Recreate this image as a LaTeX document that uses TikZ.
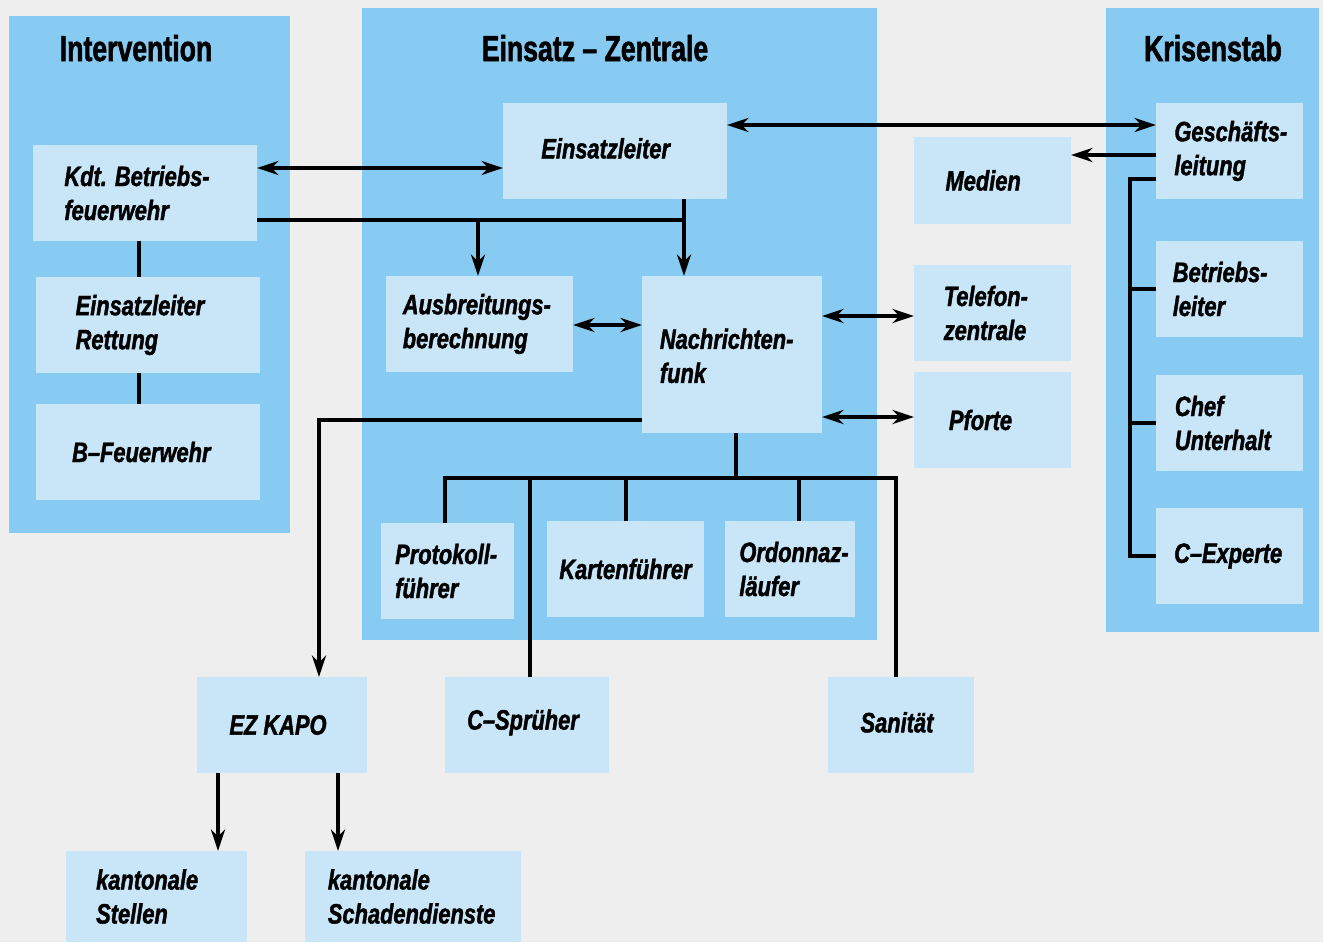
\documentclass[tikz,border=0pt]{standalone}
\usepackage{fontspec}
\usetikzlibrary{arrows.meta,fit}
\newfontfamily\labfont{Liberation Sans}[FakeStretch=0.78,FakeBold=1.5]
\newfontfamily\titfont{Liberation Sans}[FakeStretch=0.74,FakeBold=1.5]
\definecolor{bgc}{RGB}{238,238,238}
\definecolor{panelc}{RGB}{135,203,242}
\definecolor{boxc}{RGB}{201,230,248}
\tikzset{
  panel/.style={fill=panelc},
  box/.style={rectangle, fill=boxc, inner sep=0pt, outer sep=0pt},
  lab/.style={inner sep=0pt, align=left, yshift=0pt,
    font=\labfont\bfseries\itshape\fontsize{21}{25.5}\selectfont},
  title/.style={anchor=base, inner sep=0pt, font=\titfont\bfseries\fontsize{27}{30}\selectfont},
  conn/.style={line width=3pt},
  tip/.tip={Stealth[length=16pt,width=10.5pt,inset=5pt]},
  arr/.style={conn, -tip},
  darr/.style={conn, tip-tip}
}
\begin{document}
\begin{tikzpicture}[x=0.75pt,y=-0.75pt]
\fill[bgc] (0,0) rectangle (1323,942);
\useasboundingbox (0,0) rectangle (1323,942);
% panels
\path[panel] (9,16) rectangle (290,533);
\path[panel] (362,8) rectangle (877,640);
\path[panel] (1106,8) rectangle (1319,632);
% titles
\node[title] (t1) at (136,61) {Intervention};
\node[title] (t2) at (595,61) {Einsatz – Zentrale};
\node[title] (t3) at (1213,61) {Krisenstab};
% boxes
\node[box, fit={(33,145)(257,241)}] (kdt) {};
\node[box, fit={(36,277)(260,373)}] (er) {};
\node[box, fit={(36,404)(260,500)}] (bf) {};
\node[box, fit={(503,103)(727,199)}] (el) {};
\node[box, fit={(386,276)(573,372)}] (ausb) {};
\node[box, fit={(642,276)(822,433)}] (nf) {};
\node[box, fit={(914,137)(1071,224)}] (med) {};
\node[box, fit={(914,265)(1071,361)}] (tel) {};
\node[box, fit={(914,372)(1071,468)}] (pf) {};
\node[box, fit={(1156,103)(1303,199)}] (gl) {};
\node[box, fit={(1156,241)(1303,337)}] (bl) {};
\node[box, fit={(1156,375)(1303,471)}] (cu) {};
\node[box, fit={(1156,508)(1303,604)}] (ce) {};
\node[box, fit={(381,523)(514,619)}] (prot) {};
\node[box, fit={(547,521)(704,617)}] (kart) {};
\node[box, fit={(725,521)(855,617)}] (ord) {};
\node[box, fit={(197,677)(367,773)}] (kapo) {};
\node[box, fit={(445,677)(609,773)}] (csp) {};
\node[box, fit={(828,677)(974,773)}] (san) {};
\node[box, fit={(66,851)(247,942)}] (ks) {};
\node[box, fit={(305,851)(521,942)}] (kd) {};
% labels
\node[lab, xshift=-6pt] (lkdt) at (kdt) {Kdt. Betriebs-\\feuerwehr};
\node[lab, xshift=-6pt] (ler) at (er) {Einsatzleiter\\Rettung};
\node[lab, xshift=-5pt] (lbf) at (bf) {B–Feuerwehr};
\node[lab, xshift=-7pt, yshift=2pt] (lel) at (el) {Einsatzleiter};
\node[lab, xshift=-2pt] (lausb) at (ausb) {Ausbreitungs-\\berechnung};
\node[lab, xshift=-4pt, yshift=-1pt] (lnf) at (nf) {Nachrichten-\\funk};
\node[lab, xshift=-7pt] (lmed) at (med) {Medien};
\node[lab, xshift=-5pt] (ltel) at (tel) {Telefon-\\zentrale};
\node[lab, xshift=-9pt] (lpf) at (pf) {Pforte};
\node[lab, xshift=1pt] (lgl) at (gl) {Geschäfts-\\leitung};
\node[lab, xshift=-7pt] (lbl) at (bl) {Betriebs-\\leiter};
\node[lab, xshift=-5pt] (lcu) at (cu) {Chef\\Unterhalt};
\node[lab, xshift=-1pt] (lce) at (ce) {C–Experte};
\node[lab, xshift=-1pt] (lprot) at (prot) {Protokoll-\\führer};
\node[lab] (lkart) at (kart) {Kartenführer};
\node[lab, xshift=3pt] (lord) at (ord) {Ordonnaz-\\läufer};
\node[lab, xshift=-3pt] (lkapo) at (kapo) {EZ KAPO};
\node[lab, xshift=-3pt, yshift=2pt] (lcsp) at (csp) {C–Sprüher};
\node[lab, xshift=-3pt, yshift=2pt] (lsan) at (san) {Sanität};
\node[lab, xshift=-7pt] (lks) at (ks) {kantonale\\Stellen};
\node[lab, xshift=-1pt] (lkd) at (kd) {kantonale\\Schadendienste};
% helper coordinates
\coordinate (h168) at (0,168);
\coordinate (h125) at (0,125);
\coordinate (h155) at (0,155);
\coordinate (j1) at (684,220);
\coordinate (j2) at (478,220);
\coordinate (kb) at (1130,179);
\coordinate (h325) at (0,325);
\coordinate (h316) at (0,316);
\coordinate (h417) at (0,417);
\coordinate (k1) at (319,420);
\coordinate (b0) at (736,478);
\coordinate (bl0) at (445,478);
\coordinate (br0) at (896,478);
\coordinate (v530) at (530,478);
\coordinate (v626) at (626,478);
\coordinate (v799) at (799,478);
\coordinate (v139) at (139,0);
\coordinate (v218) at (218,0);
\coordinate (v338) at (338,0);
% connectors
\draw[darr] (kdt.east |- h168) -- (el.west |- h168);
\draw[conn] (kdt.east |- j1) -- (j1);
\draw[arr] (el.south -| j1) -- (nf.north -| j1);
\draw[arr] (j2) -- (ausb.north -| j2);
\draw[darr] (el.east |- h125) -- (gl.west |- h125);
\draw[arr] (gl.west |- h155) -- (med.east |- h155);
\draw[conn] (gl.west |- kb) -- (kb) -- (kb |- ce.west) -- (ce.west);
\draw[conn] (kb |- bl.west) -- (bl.west);
\draw[conn] (kb |- cu.west) -- (cu.west);
\draw[darr] (ausb.east |- h325) -- (nf.west |- h325);
\draw[darr] (nf.east |- h316) -- (tel.west |- h316);
\draw[darr] (nf.east |- h417) -- (pf.west |- h417);
\draw[arr] (nf.west |- k1) -- (k1) -- (kapo.north -| k1);
\draw[conn] (nf.south -| b0) -- (b0);
\draw[conn] (prot.north -| bl0) -- (bl0) -- (br0) -- (san.north -| br0);
\draw[conn] (v530) -- (csp.north -| v530);
\draw[conn] (v626) -- (kart.north -| v626);
\draw[conn] (v799) -- (ord.north -| v799);
\draw[conn] (kdt.south -| v139) -- (er.north -| v139);
\draw[conn] (er.south -| v139) -- (bf.north -| v139);
\draw[arr] (kapo.south -| v218) -- (ks.north -| v218);
\draw[arr] (kapo.south -| v338) -- (kd.north -| v338);
\end{tikzpicture}
\end{document}
